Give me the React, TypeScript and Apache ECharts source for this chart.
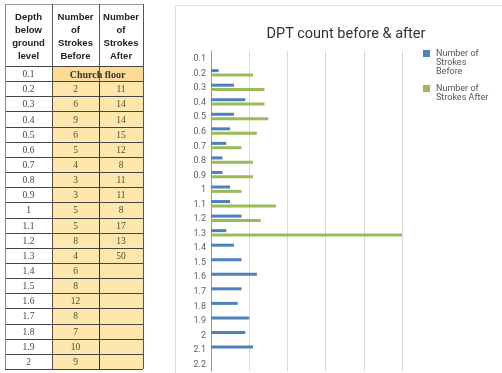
import React, { useEffect, useRef } from "react";
import * as echarts from "echarts";

const depthLabels = ["0.1","0.2","0.3","0.4","0.5","0.6","0.7","0.8","0.9","1","1.1","1.2","1.3","1.4","1.5","1.6","1.7","1.8","1.9","2","2.1","2.2"];
const strokesBefore: (number | null)[] = [null,2,6,9,6,5,4,3,3,5,5,8,4,6,8,12,8,7,10,9,11,null];
const strokesAfter: (number | null)[] = [null,11,14,14,15,12,8,11,11,8,17,13,50,null,null,null,null,null,null,null,null,null];
const tableRowCount = 20;
const headerTexts = ["Depth\nbelow\nground\nlevel", "Number\nof\nStrokes\nBefore", "Number\nof\nStrokes\nAfter"];
const seriesNames = ["Number of Strokes Before", "Number of Strokes After"];
const legendTexts = ["Number of\nStrokes\nBefore", "Number of\nStrokes After"];
const churchFloor = "Church floor";

const BLUE = "#4f81bd";
const GREEN = "#9bbb59";

function buildTable(): any[] {
  const els: any[] = [];
  const colX = [5, 52, 99, 143];
  const top = 4;
  const headBottom = 66;
  const bottom = 369;
  const rh = (bottom - headBottom) / tableRowCount;
  els.push({ type: "rect", shape: { x: colX[0], y: top, width: colX[3] - colX[0], height: headBottom - top }, style: { fill: "#ffffff" } });
  for (let i = 0; i < 3; i++) {
    els.push({
      type: "text",
      x: (colX[i] + colX[i + 1]) / 2,
      y: (top + headBottom) / 2 + 1,
      style: { text: headerTexts[i], font: "bold 9.5px 'Liberation Sans', Arial, sans-serif", fill: "#222", align: "center", verticalAlign: "middle", lineHeight: 13.3 },
    });
  }
  for (let r = 0; r < tableRowCount; r++) {
    const y = headBottom + r * rh;
    els.push({ type: "rect", shape: { x: colX[0], y, width: colX[1] - colX[0], height: rh }, style: { fill: "#ffffff" } });
    els.push({ type: "rect", shape: { x: colX[1], y, width: colX[3] - colX[1], height: rh }, style: { fill: r === 0 ? "#fbdb96" : "#fee7ad" } });
    els.push({ type: "text", x: (colX[0] + colX[1]) / 2, y: y + rh / 2 + 0.5, style: { text: depthLabels[r], font: "9.5px 'Liberation Serif', serif", fill: "#444", align: "center", verticalAlign: "middle" } });
    if (r === 0) {
      els.push({ type: "text", x: (colX[1] + colX[3]) / 2, y: y + rh / 2 + 0.5, style: { text: churchFloor, font: "bold 10px 'Liberation Serif', serif", fill: "#333", align: "center", verticalAlign: "middle" } });
    } else {
      const b = strokesBefore[r];
      const a = strokesAfter[r];
      if (b != null) els.push({ type: "text", x: (colX[1] + colX[2]) / 2, y: y + rh / 2 + 0.5, style: { text: String(b), font: "9.5px 'Liberation Serif', serif", fill: "#5a4a30", align: "center", verticalAlign: "middle" } });
      if (a != null) els.push({ type: "text", x: (colX[2] + colX[3]) / 2, y: y + rh / 2 + 0.5, style: { text: String(a), font: "9.5px 'Liberation Serif', serif", fill: "#5a4a30", align: "center", verticalAlign: "middle" } });
    }
  }
  for (let r = 0; r <= tableRowCount; r++) {
    const y = Math.round(headBottom + r * rh) + 0.5;
    els.push({ type: "line", shape: { x1: colX[0], y1: y, x2: colX[3], y2: y }, style: { stroke: "#444", lineWidth: 1 } });
  }
  els.push({ type: "line", shape: { x1: colX[0], y1: top + 0.5, x2: colX[3], y2: top + 0.5 }, style: { stroke: "#999", lineWidth: 1 } });
  for (let c = 0; c < 4; c++) {
    const x = colX[c] + 0.5;
    if (c === 2) {
      els.push({ type: "line", shape: { x1: x, y1: top, x2: x, y2: headBottom + rh }, style: { stroke: "#555", lineWidth: 1 } });
      els.push({ type: "line", shape: { x1: x, y1: headBottom + rh, x2: x, y2: bottom }, style: { stroke: "#333", lineWidth: 1 } });
      continue;
    }
    els.push({ type: "line", shape: { x1: x, y1: top, x2: x, y2: bottom }, style: { stroke: c === 0 ? "#888" : "#555", lineWidth: 1 } });
  }
  return els;
}

function buildLegend(): any[] {
  const els: any[] = [];
  const ys = [50, 85];
  const colors = [BLUE, GREEN];
  for (let i = 0; i < 2; i++) {
    els.push({ type: "rect", shape: { x: 423, y: ys[i], width: 7, height: 7 }, style: { fill: colors[i] } });
    els.push({ type: "text", x: 436, y: ys[i] - 1, style: { text: legendTexts[i], font: "9px Roboto, sans-serif", fill: "#555", lineHeight: 8.8, verticalAlign: "top" } });
  }
  return els;
}

export default function App() {
  const ref = useRef<HTMLDivElement>(null);
  useEffect(() => {
    if (!ref.current) return;
    const chart = echarts.init(ref.current, undefined, { renderer: "svg" });
    chart.setOption({
      animation: false,
      title: {
        text: "DPT count before & after",
        left: 341,
        top: 21,
        textAlign: "center",
        textStyle: { fontFamily: "Roboto, sans-serif", fontSize: 14.5, fontWeight: "normal", color: "#333" },
      },
      legend: { show: false },
      grid: { left: 211, right: 100, top: 51, bottom: 2, containLabel: false },
      xAxis: {
        type: "value",
        min: 0,
        max: 50,
        interval: 10,
        axisLabel: { show: false },
        axisLine: { show: false },
        axisTick: { show: false },
        splitLine: { show: true, lineStyle: { color: "#d9d9d9", width: 1 } },
      },
      yAxis: {
        type: "category",
        data: depthLabels,
        inverse: true,
        axisLine: { show: true, lineStyle: { color: "#999", width: 1 } },
        axisTick: { show: false },
        axisLabel: { fontFamily: "Roboto, sans-serif", fontSize: 9, color: "#5f5f5f", margin: 5 },
      },
      series: [
        { name: seriesNames[0], type: "bar", data: strokesBefore, barWidth: 3, barGap: "45%", itemStyle: { color: BLUE } },
        { name: seriesNames[1], type: "bar", data: strokesAfter, barWidth: 3, barGap: "45%", itemStyle: { color: GREEN } },
      ],
      graphic: [
        { type: "rect", shape: { x: 175.5, y: 5.5, width: 340, height: 380 }, style: { fill: "none", stroke: "#dcdcdc", lineWidth: 1 }, z: -1 },
        ...buildTable(),
        ...buildLegend(),
      ],
    });
    return () => chart.dispose();
  }, []);
  return <div ref={ref} style={{ position: "fixed", left: 0, top: 0, width: 502, height: 373 }} />;
}
